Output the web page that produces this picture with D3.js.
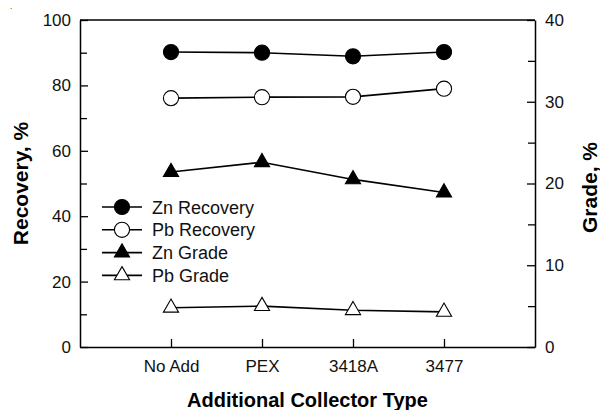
<!DOCTYPE html>
<html>
<head>
<meta charset="utf-8">
<script src="https://cdn.jsdelivr.net/npm/d3@7"></script>
<style>
  body { margin: 0; background: #fff; }
  svg { font-family: "Liberation Sans", Arial, sans-serif; }
</style>
</head>
<body>
<div id="chart"></div>
<script>
// data
var categories = ["No Add", "PEX", "3418A", "3477"];
var znRecovery = [90.2, 90.0, 88.9, 90.2];
var pbRecovery = [76.1, 76.4, 76.5, 79.0];
var znGrade = [21.4, 22.6, 20.5, 18.9];
var pbGrade = [4.8, 5.0, 4.5, 4.3];
var leftTicks = [0, 20, 40, 60, 80, 100];
var leftMinor = [10, 30, 50, 70, 90];
var rightTicks = [0, 10, 20, 30, 40];
var rightMinor = [5, 15, 25, 35];

var width = 600, height = 410;
var margin = {top: 20, right: 65, bottom: 63, left: 80};
var x0 = margin.left, x1 = width - margin.right;
var y0 = height - margin.bottom, y1 = margin.top;

var svg = d3.select("#chart").append("svg")
    .attr("width", width)
    .attr("height", height);

var x = d3.scaleLinear().domain([0, categories.length + 1]).range([x0, x1]);
var yL = d3.scaleLinear().domain([0, 100]).range([y0, y1]);
var yR = d3.scaleLinear().domain([0, 40]).range([y0, y1]);

function styleAxis(g) {
    g.selectAll("path").attr("stroke", "#000").attr("stroke-width", 1.5);
    g.selectAll("line").attr("stroke", "#000").attr("stroke-width", 1.3);
    g.selectAll("text").attr("font-size", 17).attr("fill", "#111")
        .attr("font-family", "'Liberation Sans', Arial, sans-serif");
}

// left axis
svg.append("g")
    .attr("transform", "translate(" + x0 + ",0)")
    .call(d3.axisLeft(yL).tickValues(leftTicks).tickSizeInner(-8).tickSizeOuter(0).tickPadding(9))
    .call(styleAxis);
svg.append("g")
    .attr("transform", "translate(" + x0 + ",0)")
    .call(d3.axisLeft(yL).tickValues(leftMinor).tickSizeInner(-7).tickSizeOuter(0).tickFormat(""))
    .call(styleAxis)
    .select("path").remove();

// right axis
svg.append("g")
    .attr("transform", "translate(" + x1 + ",0)")
    .call(d3.axisRight(yR).tickValues(rightTicks).tickSizeInner(-8).tickSizeOuter(0).tickPadding(10))
    .call(styleAxis);
svg.append("g")
    .attr("transform", "translate(" + x1 + ",0)")
    .call(d3.axisRight(yR).tickValues(rightMinor).tickSizeInner(-7).tickSizeOuter(0).tickFormat(""))
    .call(styleAxis)
    .select("path").remove();

// bottom axis
svg.append("g")
    .attr("transform", "translate(0," + y0 + ")")
    .call(d3.axisBottom(x).tickValues(d3.range(1, categories.length + 1))
        .tickFormat(function (d) { return categories[d - 1]; })
        .tickSizeInner(-8).tickSizeOuter(0).tickPadding(13))
    .call(styleAxis);

// top frame
svg.append("line")
    .attr("x1", x0).attr("x2", x1).attr("y1", y1).attr("y2", y1)
    .attr("stroke", "#000").attr("stroke-width", 1.5);

// series
var series = [
    {name: "Zn Recovery", values: znRecovery, scale: yL, shape: "circle", fill: "#000"},
    {name: "Pb Recovery", values: pbRecovery, scale: yL, shape: "circle", fill: "#fff"},
    {name: "Zn Grade", values: znGrade, scale: yR, shape: "triangle", fill: "#000"},
    {name: "Pb Grade", values: pbGrade, scale: yR, shape: "triangle", fill: "#fff"}
];

var circleSym = d3.symbol().type(d3.symbolCircle).size(180);
var triSym = d3.symbol().type(d3.symbolTriangle).size(100);

function drawMarker(g, s) {
    g.append("path")
        .attr("d", s.shape === "circle" ? circleSym() : triSym())
        .attr("fill", s.fill)
        .attr("stroke", "#000")
        .attr("stroke-width", 1.1);
}

series.forEach(function (s) {
    var line = d3.line()
        .x(function (d, i) { return x(i + 1); })
        .y(function (d) { return s.scale(d); });
    svg.append("path")
        .datum(s.values)
        .attr("d", line)
        .attr("fill", "none")
        .attr("stroke", "#000")
        .attr("stroke-width", 1.6);
    svg.append("g").selectAll("g")
        .data(s.values)
        .join("g")
        .attr("transform", function (d, i) { return "translate(" + x(i + 1) + "," + s.scale(d) + ")"; })
        .each(function () { drawMarker(d3.select(this), s); });
});

// legend
var legend = svg.append("g").attr("transform", "translate(102,207)");
series.forEach(function (s, i) {
    var row = legend.append("g").attr("transform", "translate(0," + (i * 22.8) + ")");
    row.append("line").attr("x1", 0).attr("x2", 40)
        .attr("stroke", "#000").attr("stroke-width", 1.6);
    var m = row.append("g").attr("transform", "translate(20,0)");
    drawMarker(m, s);
    row.append("text")
        .attr("x", 50).attr("y", 6.5)
        .attr("font-size", 18).attr("fill", "#111")
        .text(s.name);
});

// titles
svg.append("text")
    .attr("transform", "translate(28," + ((y0 + y1) / 2) + ") rotate(-90)")
    .attr("text-anchor", "middle")
    .attr("font-size", 21).attr("font-weight", "bold")
    .text("Recovery, %");

svg.append("text")
    .attr("transform", "translate(597," + ((y0 + y1) / 2 + 4) + ") rotate(-90)")
    .attr("text-anchor", "middle")
    .attr("font-size", 21).attr("font-weight", "bold")
    .text("Grade, %");

svg.append("text")
    .attr("x", (x0 + x1) / 2 + 0).attr("y", 407)
    .attr("text-anchor", "middle")
    .attr("font-size", 20).attr("font-weight", "bold")
    .text("Additional Collector Type");

// stray dot in the top-left corner of the original
svg.append("text").attr("x", 10).attr("y", 9).attr("font-size", 8).text(".");
</script>
</body>
</html>
